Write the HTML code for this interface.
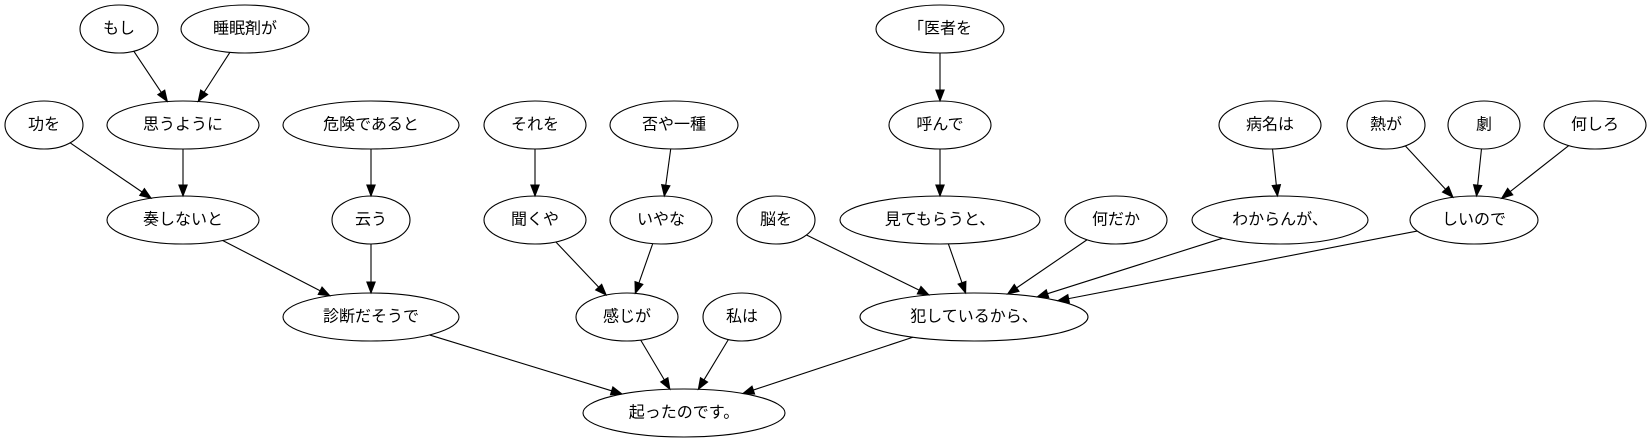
<!DOCTYPE html>
<html><head><meta charset="utf-8"><style>
html,body{margin:0;padding:0;background:#fff;}
svg{display:block;}
text{font-family:"Liberation Sans","Noto Sans CJK JP",sans-serif;font-size:16px;text-anchor:middle;dominant-baseline:central;fill:#000;}
ellipse{fill:none;stroke:#000;stroke-width:1.1;}
</style></head><body>
<svg id="g" width="1651" height="443" viewBox="0 0 1651 443" xmlns="http://www.w3.org/2000/svg">
<g id="edges"></g>
<g id="nodes">
<ellipse cx="119" cy="29" rx="39" ry="24"/><text x="119" y="29">もし</text>
<ellipse cx="245" cy="29" rx="64" ry="24"/><text x="245" y="29">睡眠剤が</text>
<ellipse cx="44" cy="125" rx="39" ry="24"/><text x="44" y="125">功を</text>
<ellipse cx="183" cy="125" rx="76" ry="24"/><text x="183" y="125">思うように</text>
<ellipse cx="371" cy="125" rx="88" ry="24"/><text x="371" y="125">危険であると</text>
<ellipse cx="535" cy="125" rx="51" ry="24"/><text x="535" y="125">それを</text>
<ellipse cx="674" cy="125" rx="64" ry="24"/><text x="674" y="125">否や一種</text>
<ellipse cx="183" cy="220" rx="76" ry="24"/><text x="183" y="220">奏しないと</text>
<ellipse cx="371" cy="220" rx="39" ry="24"/><text x="371" y="220">云う</text>
<ellipse cx="535" cy="220" rx="51" ry="24"/><text x="535" y="220">聞くや</text>
<ellipse cx="661" cy="220" rx="51" ry="24"/><text x="661" y="220">いやな</text>
<ellipse cx="776" cy="220" rx="39" ry="24"/><text x="776" y="220">脳を</text>
<ellipse cx="371" cy="317" rx="88" ry="24"/><text x="371" y="317">診断だそうで</text>
<ellipse cx="627" cy="317" rx="51" ry="24"/><text x="627" y="317">感じが</text>
<ellipse cx="742" cy="317" rx="39" ry="24"/><text x="742" y="317">私は</text>
<ellipse cx="684" cy="413" rx="101" ry="24"/><text x="684" y="413">起ったのです。</text>
<ellipse cx="940" cy="29" rx="64" ry="24"/><text x="940" y="29">「医者を</text>
<ellipse cx="940" cy="125" rx="51" ry="24"/><text x="940" y="125">呼んで</text>
<ellipse cx="940" cy="220" rx="100" ry="24"/><text x="940" y="220">見てもらうと、</text>
<ellipse cx="1116" cy="220" rx="51" ry="24"/><text x="1116" y="220">何だか</text>
<ellipse cx="1280" cy="220" rx="88" ry="24"/><text x="1280" y="220">わからんが、</text>
<ellipse cx="1474" cy="220" rx="64" ry="24"/><text x="1474" y="220">しいので</text>
<ellipse cx="1270" cy="125" rx="51" ry="24"/><text x="1270" y="125">病名は</text>
<ellipse cx="1386" cy="125" rx="39" ry="24"/><text x="1386" y="125">熱が</text>
<ellipse cx="1484" cy="125" rx="36" ry="24"/><text x="1484" y="125">劇</text>
<ellipse cx="1595" cy="125" rx="51" ry="24"/><text x="1595" y="125">何しろ</text>
<ellipse cx="974" cy="317" rx="114" ry="24"/><text x="974" y="317">犯しているから、</text>
</g>
</svg>
<script>
var N={a:[119,29,39],b:[245,29,64],c:[44,125,39],d:[183,125,76],e:[371,125,88],f:[535,125,51],h:[674,125,64],
i:[183,220,76],j:[371,220,39],k:[535,220,51],l:[661,220,51],m:[776,220,39],n:[371,317,88],o:[627,317,51],p:[742,317,39],
q:[684,413,101],r:[940,29,64],s:[940,125,51],t:[940,220,100],u:[1116,220,51],v:[1280,220,88],w:[1474,220,64],
x:[1270,125,51],y:[1386,125,39],z:[1484,125,36],A:[1595,125,51],B:[974,317,114]};
var E=[["a","d"],["b","d"],["c","i"],["d","i"],["e","j"],["f","k"],["h","l"],["i","n"],["j","n"],["k","o"],["l","o"],
["n","q"],["o","q"],["p","q"],["B","q"],["r","s"],["s","t"],["m","B"],["t","B"],["u","B"],["v","B"],["w","B"],
["x","v"],["y","w"],["z","w"],["A","w"]];
function clip(n,dx,dy){var rx=n[2],ry=24;var t=1/Math.sqrt(dx*dx/(rx*rx)+dy*dy/(ry*ry));return [n[0]+dx*t,n[1]+dy*t];}
var s="";
E.forEach(function(e){var A=N[e[0]],B=N[e[1]];var dx=B[0]-A[0],dy=B[1]-A[1];
var p=clip(A,dx,dy),q=clip(B,-dx,-dy);var L=Math.hypot(q[0]-p[0],q[1]-p[1]);var ux=(q[0]-p[0])/L,uy=(q[1]-p[1])/L;
var bx=q[0]-ux*11,by=q[1]-uy*11;
s+='<line x1="'+p[0]+'" y1="'+p[1]+'" x2="'+bx+'" y2="'+by+'" stroke="#000" stroke-width="1.1"/>';
s+='<polygon points="'+q[0]+','+q[1]+' '+(bx-uy*4.2)+','+(by+ux*4.2)+' '+(bx+uy*4.2)+','+(by-ux*4.2)+'" fill="#000" stroke="#000"/>';});
document.getElementById("edges").innerHTML=s;
</script>
</body></html>
